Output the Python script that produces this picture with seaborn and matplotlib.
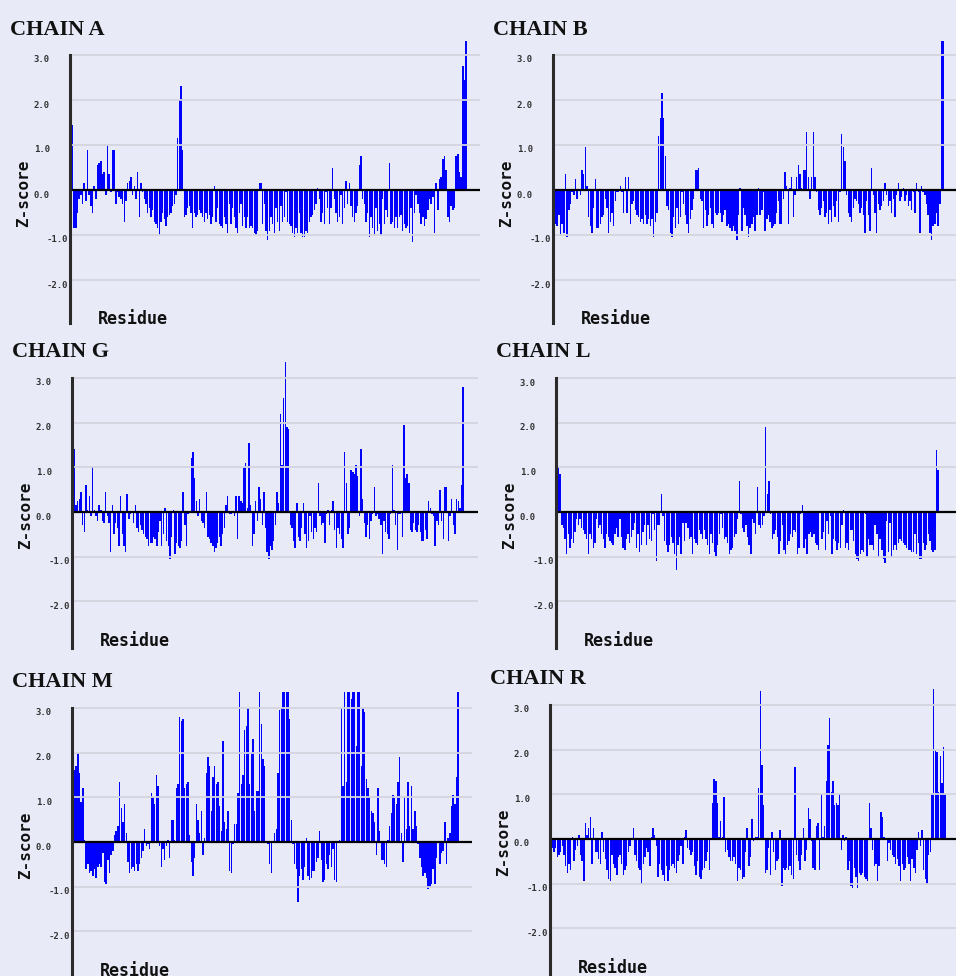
import numpy as np
import pandas as pd
import matplotlib
matplotlib.use("Agg")
import matplotlib.pyplot as plt
import seaborn as sns

W, H = 956, 976
BG = "#e8eaf8"
BAR = "#0000ff"
GRID = "#d3d4de"

# z-scores per residue left to right
chain_a_z = [
    1.45, 1.45, -0.85, -0.85, -0.5, -0.2, -0.1, -0.3, 0.15, -0.25, 0.9, -0.1, -0.35, -0.5, 0.1, -0.2,
    0.55, 0.6, 0.65, 0.35, 0.4, -0.1, 1.0, 0.35, -0.05, 0.9, 0.9, -0.3, -0.05, -0.15, -0.2, -0.3,
    -0.7, -0.25, 0.15, 0.2, 0.3, -0.1, 0.1, -0.2, 0.4, -0.6, 0.15, -0.05, -0.2, -0.3, -0.5, -0.4,
    -0.6, -0.45, -0.7, -0.75, -0.85, -1.0, -0.7, -0.5, -0.65, -0.8, -0.6, -0.55, -0.5, -0.35, -0.3, -0.1,
    1.15, 2.0, 2.3, 0.9, -0.6, -0.55, -0.4, -0.35, -0.5, -0.85, -0.5, -0.6, -0.55, -0.45, -0.5, -0.6,
    -0.7, -0.5, -0.65, -0.55, -0.75, -0.6, 0.1, -0.7, -0.4, -0.75, -0.8, -0.85, -0.6, -0.75, -0.95, -0.3,
    -0.75, -0.4, -0.6, -0.85, -0.95, -0.5, -0.3, -0.8, -0.6, -0.85, -0.6, -0.85,
    -0.8, -0.85, -0.95, -1.0, -0.9, 0.15, 0.15, -0.75, -0.3, -0.9, -1.1, -0.9, -0.6, -0.75, -0.95, -0.4,
    -0.7, -0.9, -0.35, -0.7, -0.6, -0.05, -0.7, -0.75, -0.8, -0.95, -1.05, -0.85, -0.95, -0.5, -0.95, -1.05,
    -1.05, -0.9, -0.95, -0.7, -0.6, -0.55, -0.45, -0.3, 0.05, -0.2, -0.7, -0.5, -0.75, -0.05, -0.4, -0.75,
    -0.4, 0.5, -0.2, -0.5, -0.7, -0.6, -0.1, -0.75, -0.4, 0.2, -0.3, 0.15, -0.35, -0.6, -0.7, -0.5,
    -0.35, 0.55, 0.75, -0.2, -0.3, -0.7, -0.5, -1.05, -0.6, -0.85, -1.0, -0.4, -0.9, -0.75, -1.0, -0.2,
    -0.75, -0.45, -0.6, 0.6, -0.75, -0.7, -0.85, -0.6, -0.85, -0.6, -0.55, -0.9, -0.75, -0.85, -0.8, -0.95,
    -0.4, -1.15, -0.5, -0.1, -0.3, -0.5, -0.75, -0.6, -0.8, -0.65, -0.45, -0.2, -0.3, -0.15, -0.95, 0.15,
    -0.45, 0.25, 0.3, 0.7, 0.75, 0.45, -0.6, -0.7, -0.35, -0.45, -0.4, 0.75, 0.8, 0.4, 0.3, 2.75,
    2.45, 3.3,
]

chain_b_z = [
    0.25, -0.75, -0.8, -0.55, -1.0, -0.75, -0.95, 0.35, -1.05, -0.45, -0.3, -0.05, -0.1, 0.25, -0.2, 0.0,
    -0.1, 0.45, 0.35, 0.95, 0.1, -0.6, -0.8, -0.95, -0.4, 0.25, -0.85, -0.85, -0.75, -0.6, -0.55, -0.2,
    -0.4, -0.95, -0.7, -0.5, -0.8, -0.25, -0.05, -0.05, 0.1, -0.05, -0.5, 0.3, -0.5, 0.3, -0.75, -0.3,
    -0.25, -0.45, -0.55, -0.6, -0.7, -0.65, -0.75, -0.55, -0.75, -0.65, -0.8, -0.65, -1.05, -0.7, -0.5, 1.2,
    1.6, 2.15, 1.6, 0.75, -0.35, -0.45, -0.95, -1.05, -0.6, -0.85, -0.4, -0.75, -0.6, -0.05, -0.3, -0.55,
    -0.75, -0.95, -0.65, -0.45, -0.2, 0.45, 0.45, 0.5, -0.2, -0.25, -0.85, -0.45, -0.8, -0.55, -0.4, -0.75,
    -0.85, -0.5, -0.55, -0.5,
    -0.5, -0.7, -0.55, -0.45, -0.8, -0.75, -0.85, -0.9, -0.8, -0.9, -1.1, -0.55, 0.05, -0.9, -0.4, -0.55,
    -0.8, -1.05, -0.85, -0.75, -0.6, -0.9, -0.55, 0.05, -0.55, -0.45, -0.05, -0.9, -0.65, -0.55, -0.7, -0.85,
    -0.8, -0.75, -0.5, -0.25, -0.75, -0.75, -0.2, 0.4, 0.1, -0.75, 0.05, 0.3, -0.6, -0.1, 0.3, 0.55,
    0.35, 0.05, 0.45, 0.45, 1.3, 0.3, -0.2, 0.3, 1.3, 0.3, -0.05, -0.45, -0.55, -0.4, -0.25, -0.6,
    -0.5, -0.75, -0.45, -0.7, -0.35, -0.6, -0.25, -0.7, -0.05, 1.25, 0.95, 0.65, -0.1, -0.5, -0.6, -0.7,
    -0.4, -0.2, -0.25, -0.3, -0.5, -0.4, -0.55, -0.95, -0.25, -0.55, -0.9, 0.5, -0.1, -0.5, -0.95, -0.3,
    -0.45, -0.35, -0.25, 0.15, -0.1, -0.35, -0.25, -0.5, -0.2, -0.6, -0.1, 0.15, -0.25, -0.15, 0.05, -0.25,
    -0.1, -0.35, -0.25, -0.45, -0.05, -0.5, 0.15, -0.05, -0.95, 0.1, -0.05, -0.1, -0.3, -0.55, -0.95, -1.1,
    -0.8, -0.75, -0.5, -0.8, -0.3, 3.3, 3.3,
]

chain_g_z = [
    1.4, 1.4, 0.15, 0.25, 0.3, 0.45, -0.3, -0.45, 0.6, 0.05, 0.35, -0.1, 1.0, 0.05, -0.1, -0.2,
    0.15, 0.05, -0.2, -0.25, 0.45, -0.1, -0.25, -0.9, 0.15, -0.5, -0.25, -0.35, -0.75, 0.35, -0.5, -0.75,
    -0.9, 0.4, -0.15, -0.05, 0.0, -0.25, 0.15, -0.35, -0.45, -0.3, -0.4, -0.5, -0.55, -0.6, -0.75, -0.7,
    -0.7, -0.55, -0.6, -0.75, -0.45, -0.2, -0.75, -0.5, 0.1, -0.65, -0.75, -1.05, -0.55, 0.05, -0.95, -0.7,
    -0.75, -0.8, -0.65, 0.45, -0.3, -0.75, -0.05, 0.0, 1.2, 1.35, 0.75, 0.25, -0.1, 0.3, -0.2, -0.25,
    -0.35, 0.45, -0.55, -0.6, -0.7, -0.75, -0.9, -0.8, -0.7, -0.55, -0.75, -0.5, -0.35, 0.15, 0.35, -0.05,
    -0.05, 0.0, -0.1, 0.35, -0.6, 0.35, 0.25, 0.2, 1.0, 1.1, 0.1, 1.55,
    0.15, -0.75, -0.5, 0.25, -0.2, 0.55, 0.3, -0.3, 0.45, -0.35, -0.9, -1.05, -0.75, -0.85, -0.65, -0.3,
    0.45, 0.2, 2.2, 1.05, 2.55, 3.35, 1.9, 1.85, -0.3, -0.35, -0.65, -0.8, 0.2, -0.55, -0.65, -0.35,
    0.2, -0.5, -0.8, -0.65, -0.1, -0.45, -0.6, -0.35, -0.45, 0.65, -0.1, -0.3, -0.25, -0.7, -0.05, 0.05,
    -0.3, 0.05, 0.25, -0.4, -0.8, -0.35, -0.5, -0.6, -0.8, 1.35, 0.65, -0.5, -0.35, 0.95, 0.9, 0.85,
    1.05, 0.8, -0.1, 1.4, 0.3, -0.25, -0.55, -0.3, -0.6, -0.2, -0.05, 0.55, -0.1, -0.05, -0.15, -0.3,
    -0.95, -0.2, -0.45, -0.5, -0.6, -0.05, 1.05, 0.05, -0.3, -0.85, -0.05, -0.05, -0.55, 1.95, 0.75, 0.85,
    0.65, -0.4, -0.45, -0.25, -0.4, -0.45, -0.3, -0.45, -0.65, -0.65, -0.4, -0.6, 0.25, 0.1, -0.05, -0.1,
    -0.75, -0.2, -0.3, 0.5, -0.2, -0.6, 0.55, 0.55, -0.65, -0.1, 0.3, -0.3, -0.5, 0.3, 0.25, 0.1,
    0.6, 2.8,
]

chain_l_z = [
    2.8, 1.0, 0.85, -0.3, -0.35, -0.6, -0.95, -0.5, -0.8, -0.6, -0.7, -0.45, -0.15, -0.3, -0.15, -0.35,
    -0.4, -0.5, -0.6, -0.95, -0.5, -0.6, -0.8, -0.7, -0.15, -0.35, -0.3, -0.5, -0.6, -0.8, -0.5, -0.55,
    -0.65, -0.7, -0.75, -0.5, -0.35, -0.55, -0.15, -0.55, -0.8, -0.85, -0.6, -0.5, -0.7, -0.55, -0.4, -0.25,
    -0.8, -0.5, -0.9, -0.75, -0.45, -0.3, -0.75, -0.3, -0.6, -0.65, -0.05, -0.4, -1.1, -0.3, -0.3, 0.4,
    -0.1, -0.65, -0.75, -0.9, -0.75, -0.55, -0.7, -0.95, -1.3, -0.75, -0.55, -0.95, -0.25, -0.65, -0.25, -0.35,
    -0.6, -0.55, -0.95, -0.6, -0.7, -0.75, -0.4, -0.5, -0.6, -0.4, -0.6, -0.75, -0.95, -0.5, -0.7, -0.9,
    -1.0,
    -0.75, -0.5, -0.05, -0.35, -0.6, -0.55, -0.7, -0.95, -0.85, -0.8, -0.55, -0.5, -0.15, 0.7, -0.05, -0.35,
    -0.45, -0.3, -0.55, -0.75, -0.95, -0.15, -0.25, -0.5, 0.55, -0.3, -0.35, -0.3, -0.1, 1.9, 0.4, 0.7,
    -0.05, -0.6, -0.5, -0.4, -0.55, -0.95, -0.65, -0.3, -0.85, -0.95, -0.75, -0.65, -0.5, -0.55, -0.4, -0.45,
    -0.95, -0.8, -0.05, 0.15, -0.8, -0.6, -0.95, -0.5, -0.45, -0.55, -0.5, -0.7, -0.75, -0.85, 0.0, -0.6,
    -0.45, -0.85, -0.2, -0.5, -0.1, -0.95, -0.6, -0.65, -0.85, -0.7, -0.8, -0.3, 0.05, -0.8, -0.7, -0.85,
    -0.4, -0.4, -0.65, -0.95, -1.05, -1.1, -0.95, -0.85, -0.9, -0.05, -1.0, -0.6, -0.75, -0.75, -0.85, -0.3,
    -0.5, -1.0, -0.6, -0.85, -1.05, -1.15, -0.2, -0.9, -0.25, -1.0, -0.85, -0.75, -0.85, -0.7, -0.6, -0.65,
    -0.7, -0.75, -0.8, -0.85, -0.85, -0.9, -0.9, -0.5, -0.95, -0.7, -1.05, -1.05, -0.7, -0.85, -0.75, -0.5,
    -0.65, -0.85, -0.9, -0.85, 1.4, 0.95,
]

chain_m_z = [
    1.2, 1.6, 1.7, 2.0, 1.55, 0.9, 1.2, 0.05, -0.6, -0.5, -0.7, -0.65, -0.75, -0.6, -0.8, -0.55,
    -0.5, -0.55, -0.25, -0.9, -0.95, -0.4, -0.7, -0.3, -0.2, 0.15, 0.25, 0.35, 1.35, 0.75, 0.45, 0.85,
    0.2, -0.45, -0.7, -0.6, -0.55, -0.65, -0.5, -0.65, -0.5, -0.35, -0.2, 0.3, -0.1, -0.05, -0.15, 1.1,
    1.0, 0.85, 1.5, 1.25, -0.1, -0.55, -0.15, -0.4, -0.1, 0.05, -0.35, 0.5, 0.5, 0.05, 1.2, 1.3,
    2.8, 2.7, 2.75, 1.2, 1.3, 1.35, 0.15, -0.45, -0.75, -0.35, 0.85, 0.5, 0.2, 0.7, -0.3, 0.1,
    1.55, 1.9, 1.7, 0.7, 1.45, 1.7, 1.3, 1.35, 0.8, 0.25, 2.25, 0.45, 0.3, 0.7, -0.65, -0.7,
    -0.05, 0.4, 0.4, 1.1, 3.35, 1.3, 1.5, 2.5, 2.6, 3.0,
    1.3, 2.0, 2.3, 0.7, 1.15, 1.15, 3.35, 2.65, 1.85, 1.7, 0.0, -0.05, -0.5, -0.7, 0.0, 0.2,
    0.3, 1.55, 2.95, 3.0, 3.35, 3.35, 3.35, 3.35, 2.75, 0.5, -0.05, -0.5, -0.6, -1.35, -0.75, -0.6,
    -0.85, -0.55, 0.1, -0.75, -0.85, -0.8, -0.65, -0.65, -0.45, -0.35, 0.25, -0.4, -0.9, -0.85, -0.5, -0.6,
    -0.3, -0.55, -0.15, -0.85, -0.9, -0.02, 0.05, 3.0, 1.25, 3.35, 1.35, 3.35, 3.35, 3.2, 3.35, 3.35,
    2.15, 3.35, 3.35, 1.7, 3.0, 2.9, 1.4, 1.2, 1.0, 0.7, 0.65, 0.45, -0.3, 1.2, 0.25, -0.4,
    -0.4, -0.5, -0.55, 0.05, 0.35, 0.65, 1.05, 1.0, 0.85, 1.35, 1.9, 0.2, -0.45, 1.0, 0.3, 1.35,
    0.35, 1.25, 0.3, 0.7, 0.35, -0.05, -0.35, -0.55, -0.75, -0.7, -0.8, -1.05, -1.0, -0.95, -0.6, -0.95,
    -0.35, 0.0, -0.5, -0.25, -0.2, 0.45, -0.5, 0.1, 0.2, 0.8, 1.05, 0.85, 1.45, 3.35,
]

chain_r_z = [
    -0.1, -0.2, -0.3, -0.2, -0.4, -0.35, -0.3, -0.15, -0.35, -0.6, -0.75, -0.55, -0.7, 0.05, -0.5, -0.25,
    -0.15, 0.1, -0.35, -0.5, -0.95, 0.35, 0.1, 0.25, 0.5, -0.55, 0.25, -0.3, -0.3, -0.45, -0.55, 0.15,
    -0.3, -0.45, -0.7, -0.9, -0.95, -0.35, -0.55, -0.65, -0.8, -0.4, -0.35, -0.55, -0.8, -0.7, -0.6, -0.3,
    -0.15, 0.0, 0.25, -0.35, -0.5, -0.65, -0.7, -1.0, -0.55, -0.4, -0.2, -0.3, -0.6, 0.05, 0.25, 0.1,
    -0.15, -0.85, -0.55, -0.7, -0.8, -0.95, -0.6, -0.95, -0.7, -0.6, -0.55, -0.65, -0.75, -0.5, -0.35, -0.15,
    -0.55, 0.05, 0.2, -0.2, -0.25, -0.35, -0.3, -0.6, -0.8, -0.5, -0.85, -0.9, -0.7, -0.65, -0.5, -0.3,
    -0.7, 0.0, 0.8, 1.35, 1.3,
    0.8, 0.05, 0.4, 0.05, 0.95, -0.3, -0.25, -0.4, -0.5, -0.5, -0.4, -0.55, -0.95, -0.65, -0.7, -0.9,
    -0.85, -0.3, 0.25, -0.6, -0.4, 0.45, -0.05, 0.05, 0.05, 1.15, 3.3, 1.65, 0.75, -0.75, -0.7, -0.2,
    -0.8, 0.15, -0.3, -0.7, -0.5, -0.45, 0.2, -1.05, -0.65, -0.7, -0.65, -0.7, -0.6, -0.8, -0.9, 1.6,
    -0.35, -0.5, -0.7, -0.35, 0.25, -0.5, -0.25, 0.7, 0.45, -0.05, -0.65, -0.7, 0.3, 0.35, -0.7, 1.0,
    0.05, 0.3, 1.3, 2.1, 2.7, 1.05, 1.3, 0.75, 0.8, 0.75, 1.0, -0.25, 0.1, -0.05, 0.05, -0.7,
    -0.5, -1.05, -1.1, -0.65, -0.85, -1.1, -0.75, -0.8, -0.75, -0.85, -0.9, -0.95, 0.8, 0.25, -0.25, -0.6,
    -0.55, -0.95, -0.6, 0.6, 0.5, 0.05, 0.0, -0.5, -0.1, -0.25, -0.35, -0.4, -0.55, -0.45, -0.6, -0.95,
    -0.55, -0.7, -0.65, -0.4, -0.55, -0.95, -0.45, -0.65, -0.75, -0.25, 0.15, -0.15, 0.2, -0.7, -0.9, -1.0,
    -0.35, -0.3, 1.0, 3.35, 2.0, 1.95, 1.05, 1.85, 1.25, 2.05, 1.0,
]

chain_names = ["CHAIN A", "CHAIN B", "CHAIN G", "CHAIN L", "CHAIN M", "CHAIN R"]
chain_values = [chain_a_z, chain_b_z, chain_g_z, chain_l_z, chain_m_z, chain_r_z]
tick_values = [-2, -1, 0, 1, 2, 3]
tick_labels = ["-2.0", "-1.0", "0.0", "1.0", "2.0", "3.0"]

# pixel layout of each panel: axis x, grid end, last bar x, zero line y, px per unit, lowest value
layout = [
    dict(ax_x=70, right=480, last=467, zero=190, unit=45.0, ymin=-2.95),
    dict(ax_x=553, right=956, last=944, zero=190, unit=45.0, ymin=-2.95),
    dict(ax_x=72, right=478, last=464, zero=512, unit=44.7, ymin=-3.04),
    dict(ax_x=556, right=956, last=939, zero=512, unit=44.6, ymin=-3.04),
    dict(ax_x=72, right=472, last=459, zero=842, unit=44.7, ymin=-3.05),
    dict(ax_x=550, right=956, last=946, zero=839, unit=44.7, ymin=-3.05),
]
YMAX = 3.38

sns.set_theme(style="white")
plt.rcParams["font.family"] = ["DejaVu Sans"]

fig = plt.figure(figsize=(W / 100, H / 100), dpi=100)
fig.patch.set_facecolor(BG)


def fx(px):
    return px / W


def fy(py):
    return 1 - py / H


for name, vals, lay in zip(chain_names, chain_values, layout):
    n = len(vals)
    top_px = lay["zero"] - YMAX * lay["unit"]
    bot_px = lay["zero"] - lay["ymin"] * lay["unit"]
    ax = fig.add_axes([fx(lay["ax_x"]), fy(bot_px),
                       fx(lay["right"] - lay["ax_x"]), (bot_px - top_px) / H])
    ax.set_facecolor(BG)

    df = pd.DataFrame({"residue": np.arange(n), "z": vals})
    sns.barplot(data=df, x="residue", y="z", native_scale=True, color=BAR,
                saturation=1, width=0.85, linewidth=0, errorbar=None, ax=ax, zorder=2)

    per_bar = (lay["last"] - lay["ax_x"]) / n
    ax.set_xlim(-0.5, -0.5 + (lay["right"] - lay["ax_x"]) / per_bar)
    ax.set_ylim(lay["ymin"], YMAX)

    ax.set_yticks(tick_values)
    ax.set_yticklabels([])
    ax.set_xticks([])
    ax.tick_params(length=0)
    ax.set_xlabel("")
    ax.set_ylabel("")
    ax.grid(axis="y", color=GRID, linewidth=1.3, zorder=2.5)
    ax.set_axisbelow(False)
    ax.axhline(0, color="black", linewidth=1.6, zorder=3)

    for s in ["top", "right", "bottom"]:
        ax.spines[s].set_visible(False)
    ax.spines["left"].set_color("#2b2b2b")
    ax.spines["left"].set_linewidth(2.2)
    ax.spines["left"].set_bounds(lay["ymin"], 3.0)
    ax.spines["left"].set_zorder(4)

    for v, lab in zip(tick_values, tick_labels):
        dx = -2 if v < 0 else -20
        ax.annotate(lab, xy=(0, v), xycoords=("axes fraction", "data"),
                    xytext=(dx, -5), textcoords="offset pixels",
                    ha="right", va="center", fontsize=6.5, fontweight="bold",
                    family="DejaVu Sans Mono", color="#333333", annotation_clip=False)

    fig.text(fx(lay["ax_x"] - 60), fy(lay["zero"] - 155), name,
             family="Liberation Serif", fontweight="bold", fontsize=16,
             color="#111111", va="baseline", ha="left")
    fig.text(fx(lay["ax_x"] - 46), fy(lay["zero"] + 3), "Z-score", rotation=90,
             family="DejaVu Sans Mono", fontweight="bold", fontsize=11.5,
             color="#111111", va="center", ha="center")
    fig.text(fx(lay["ax_x"] + 63), fy(lay["zero"] + 129), "Residue",
             family="DejaVu Sans Mono", fontweight="bold", fontsize=12,
             color="#111111", va="center", ha="center")

fig.savefig("out.png", dpi=100, facecolor=BG)
